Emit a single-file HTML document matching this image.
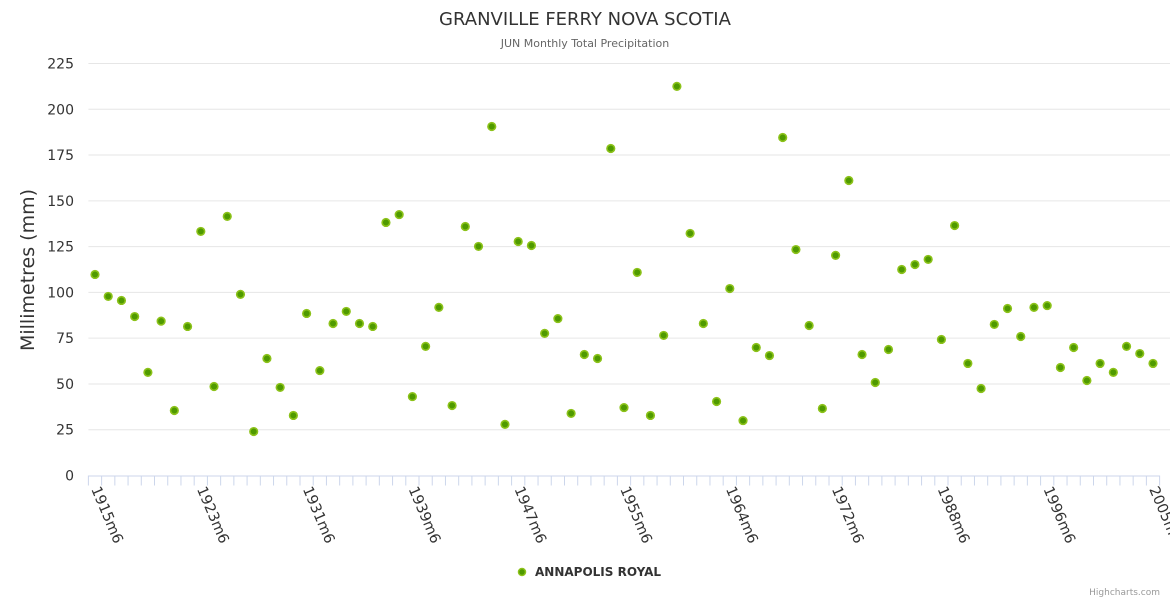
<!DOCTYPE html>
<html><head><meta charset="utf-8"><style>
body{margin:0;background:#fff;}
svg{display:block;font-family:"DejaVu Sans","Liberation Sans",sans-serif;}
</style></head><body>
<svg id="chart" width="1170" height="600" viewBox="0 0 1170 600">
<text x="585" y="25" text-anchor="middle" font-size="18" fill="#333">GRANVILLE FERRY NOVA SCOTIA</text>
<text x="585" y="47" text-anchor="middle" font-size="11" fill="#666">JUN Monthly Total Precipitation</text>
<text transform="translate(34,270) rotate(-90)" text-anchor="middle" font-size="19" fill="#333">Millimetres (mm)</text>
<g id="grid"></g><g id="xaxis"></g><g id="points"></g>
<g>
<circle cx="522" cy="572" r="3.5" fill="#4f9a00" stroke="#8cc21a" stroke-width="1.5"/>
<text x="535" y="576" font-size="12" font-weight="bold" fill="#333">ANNAPOLIS ROYAL</text>
</g>
<text x="1160" y="595" text-anchor="end" font-size="9" fill="#999">Highcharts.com</text>
</svg>
<script>
const yTicks=[0,25,50,75,100,125,150,175,200,225];
const xLabelIdx=[0,8,16,24,32,40,48,56,64,72,80];
const xLabels=["1915m6","1923m6","1931m6","1939m6","1947m6","1955m6","1964m6","1972m6","1988m6","1996m6","2005m6"];
const values=[109.8,97.8,95.6,86.8,56.3,84.3,35.5,81.4,133.3,48.6,
141.5,98.9,24.0,63.9,48.1,32.8,88.5,57.3,83.0,89.6,
83.0,81.4,138.2,142.5,43.1,70.5,91.8,38.2,136.0,125.1,
190.6,27.9,127.8,125.6,77.6,85.7,33.9,66.1,63.9,178.6,
37.1,110.9,32.8,76.5,212.5,132.2,83.0,40.4,102.1,30.0,
69.9,65.5,184.6,123.4,81.9,36.6,120.2,161.1,66.1,50.8,
68.8,112.5,115.2,118.0,74.3,136.5,61.2,47.5,82.5,91.2,
75.9,91.8,92.8,59.0,69.9,51.9,61.2,56.3,70.5,66.6,61.2];
const NS="http://www.w3.org/2000/svg";
const nCat=values.length, step=13.225, left=95-step/2, y0=475.5, yTop=63.5, yMax=225;
const xPos=i=>left+step*(i+0.5);
const yPos=v=>y0-(v/yMax)*(y0-yTop);
function mk(tag,attrs,parent){const e=document.createElementNS(NS,tag);for(const k in attrs)e.setAttribute(k,attrs[k]);parent.appendChild(e);return e;}
const grid=document.getElementById('grid');
yTicks.forEach(t=>{
  const y=yPos(t);
  if(t>0){const l=mk('line',{x1:left,x2:1170,y1:y,y2:y,stroke:'#e6e6e6','stroke-width':1},grid);
  
  }
  const tx=mk('text',{x:74,y:y+5,'text-anchor':'end','font-size':14,fill:'#333'},grid);
  tx.textContent=t;
  
  
});
const xa=document.getElementById('xaxis');
const al=mk('line',{x1:left,x2:left+step*nCat,y1:y0+0.5,y2:y0+0.5,stroke:'#ccd6eb','stroke-width':1},xa);


for(let i=0;i<=nCat;i++){const x=left+step*i;mk('line',{x1:x,x2:x,y1:y0,y2:y0+10,stroke:'#ccd6eb'},xa);}
xLabels.forEach((s,k)=>{
  const x=xPos(xLabelIdx[k])-4,y=489;
  const t=mk('text',{x:x,y:y,'font-size':14.5,fill:'#333',transform:`rotate(67 ${x} ${y})`},xa);
  t.textContent=s;
  
  
});
const pg=document.getElementById('points');
values.forEach((v,i)=>{
  const c=mk('circle',{cx:xPos(i),cy:yPos(v),r:3.8,fill:'#4f9a00',stroke:'#8cc21a','stroke-width':1.6},pg);
  
  
});
</script>
</body></html>
